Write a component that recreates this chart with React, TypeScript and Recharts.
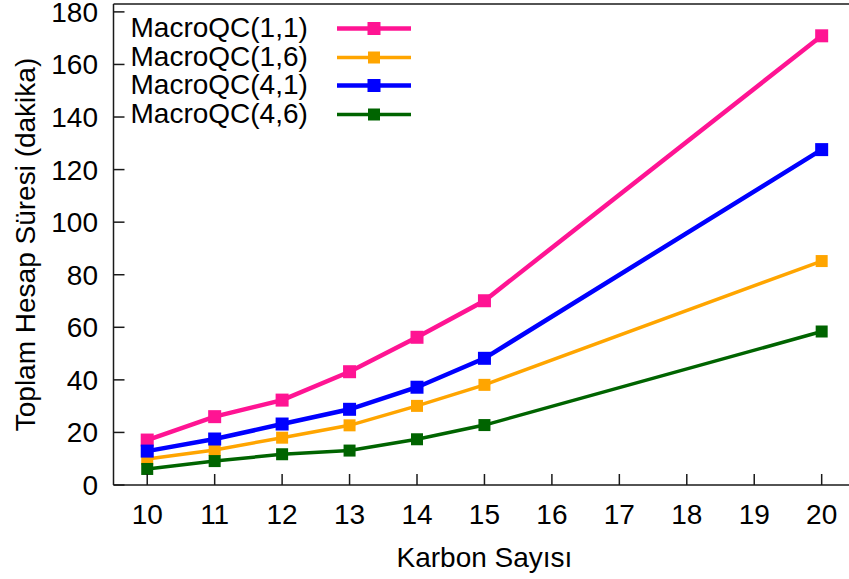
import React from 'react';
import { LineChart, Line, XAxis, YAxis, ReferenceLine, Legend } from 'recharts';

// ---- data ----
const carbonCounts = [10, 11, 12, 13, 14, 15, 20];
const macroQC11 = [17.1, 26.0, 32.3, 43.1, 56.2, 70.1, 170.9];
const macroQC16 = [9.9, 13.3, 18.0, 22.7, 30.1, 38.1, 85.2];
const macroQC41 = [12.9, 17.5, 23.2, 28.8, 37.2, 48.2, 127.6];
const macroQC46 = [6.1, 9.1, 11.7, 13.1, 17.4, 22.8, 58.4];
const seriesNames = ['MacroQC(1,1)', 'MacroQC(1,6)', 'MacroQC(4,1)', 'MacroQC(4,6)'];
const xTicks = [10, 11, 12, 13, 14, 15, 16, 17, 18, 19, 20];
const yTicks = [0, 20, 40, 60, 80, 100, 120, 140, 160, 180];
const xLabel = 'Karbon Sayısı';
const yLabel = 'Toplam Hesap Süresi (dakika)';

const data = carbonCounts.map((c, i) => ({
  x: c,
  s11: macroQC11[i],
  s16: macroQC16[i],
  s41: macroQC41[i],
  s46: macroQC46[i],
}));

const series = [
  { key: 's11', name: seriesNames[0], color: '#ff1493', width: 4.5, marker: 13 },
  { key: 's16', name: seriesNames[1], color: '#ffa500', width: 3.5, marker: 12 },
  { key: 's41', name: seriesNames[2], color: '#0000ff', width: 4.5, marker: 13 },
  { key: 's46', name: seriesNames[3], color: '#006400', width: 3.5, marker: 12 },
];

const FONT = '"Liberation Sans", Arial, Helvetica, sans-serif';
const FS = 28;
const AXIS = '#1a1a1a';

const squareDot = (size: number, color: string, key: string) => (props: any) => {
  const { cx, cy, index } = props;
  if (cx == null || cy == null) return <g key={`${key}-e-${index}`} />;
  return (
    <rect
      key={`${key}-d-${index}`}
      x={cx - size / 2}
      y={cy - size / 2}
      width={size}
      height={size}
      fill={color}
    />
  );
};

const XTick = (props: any) => {
  const { x, y, payload } = props;
  return (
    <g>
      <line x1={x} y1={y} x2={x} y2={y - 11} stroke={AXIS} strokeWidth={1.5} />
      <text x={x} y={y + 39.3} textAnchor="middle" fontFamily={FONT} fontSize={FS} fill="#000">
        {payload.value}
      </text>
    </g>
  );
};

const YTick = (props: any) => {
  const { x, y, payload } = props;
  return (
    <g>
      <line x1={x} y1={y} x2={x + 11} y2={y} stroke={AXIS} strokeWidth={1.5} />
      <text x={x - 15.5} y={y + 10} textAnchor="end" fontFamily={FONT} fontSize={FS} fill="#000">
        {payload.value}
      </text>
    </g>
  );
};

const XLabelContent = (props: any) => {
  const vb = props.viewBox || { x: 113.5, y: 485, width: 742, height: 94 };
  return (
    <text
      x={vb.x + vb.width / 2}
      y={vb.y + 82.3}
      textAnchor="middle"
      fontFamily={FONT}
      fontSize={FS}
      fill="#000"
    >
      {xLabel}
    </text>
  );
};

const YLabelContent = (props: any) => {
  const vb = props.viewBox || { x: 0, y: 4, width: 113.5, height: 481 };
  const cx = vb.x + 35;
  const cy = vb.y + vb.height / 2;
  return (
    <text
      x={cx}
      y={cy}
      transform={`rotate(-90, ${cx}, ${cy})`}
      textAnchor="middle"
      fontFamily={FONT}
      fontSize={FS}
      fill="#000"
    >
      {yLabel}
    </text>
  );
};

const LegendContent = () => (
  <div style={{ fontFamily: FONT, fontSize: FS, color: '#000' }}>
    {series.map((s) => (
      <div
        key={s.key}
        style={{ display: 'flex', alignItems: 'center', height: 28.5, lineHeight: '28.5px', whiteSpace: 'nowrap' }}
      >
        <span style={{ display: 'inline-block', width: 206.5 }}>{s.name}</span>
        <svg width={75} height={28.5} style={{ display: 'block' }}>
          <line x1={0} y1={14.5} x2={74} y2={14.5} stroke={s.color} strokeWidth={s.width} />
          <rect x={37 - s.marker / 2} y={14.5 - s.marker / 2} width={s.marker} height={s.marker} fill={s.color} />
        </svg>
      </div>
    ))}
  </div>
);

export default function App() {
  return (
    <div
      style={{
        position: 'fixed',
        left: 0,
        top: 0,
        width: 849,
        height: 579,
        overflow: 'hidden',
        background: '#fff',
      }}
    >
      <LineChart
        width={856}
        height={579}
        data={data}
        margin={{ top: 4, right: 0.6, left: 0, bottom: 0 }}
      >
        <XAxis
          type="number"
          dataKey="x"
          domain={[9.5, 20.5]}
          ticks={xTicks}
          allowDataOverflow
          height={94}
          tickSize={0}
          tickMargin={0}
          tickLine={false}
          tick={<XTick />}
          interval={0}
          axisLine={{ stroke: AXIS, strokeWidth: 1.5 }}
          label={{ value: xLabel, content: <XLabelContent /> }}
        />
        <YAxis
          type="number"
          domain={[0, 183]}
          ticks={yTicks}
          allowDataOverflow
          width={113.5}
          tickSize={0}
          tickMargin={0}
          tickLine={false}
          tick={<YTick />}
          interval={0}
          axisLine={{ stroke: AXIS, strokeWidth: 1.5 }}
          label={{ value: yLabel, content: <YLabelContent /> }}
        />
        <ReferenceLine y={183} stroke={AXIS} strokeWidth={1.5} />
        <ReferenceLine x={20.5} stroke={AXIS} strokeWidth={1.5} />
        <Legend
          layout="vertical"
          align="center"
          verticalAlign="middle"
          content={<LegendContent />}
          wrapperStyle={{ left: 130.5, top: 14.4, width: 'auto', height: 'auto', margin: 0 }}
        />
        {series.map((s) => (
          <Line
            key={s.key}
            type="linear"
            dataKey={s.key}
            name={s.name}
            stroke={s.color}
            strokeWidth={s.width}
            dot={squareDot(s.marker, s.color, s.key)}
            activeDot={false}
            isAnimationActive={false}
            strokeLinejoin="miter"
          />
        ))}
      </LineChart>
    </div>
  );
}
